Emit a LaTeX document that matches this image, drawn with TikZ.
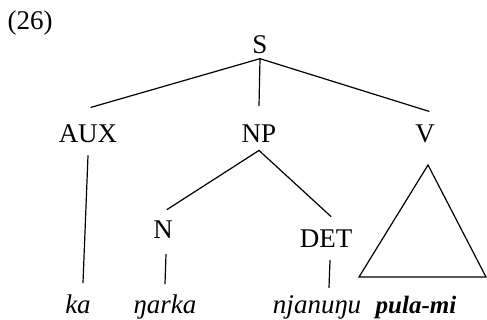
\documentclass[tikz,border=0pt]{standalone}
\usepackage{fontspec}
\setmainfont{Liberation Serif}
\begin{document}
\begin{tikzpicture}[x=1pt,y=-1pt,line width=1.2pt,cap=round,
    cat/.style={inner sep=0pt,font=\fontsize{27}{32}\selectfont},
    leaf/.style={inner sep=0pt,anchor=base,font=\fontsize{27}{32}\selectfont\itshape}]
    \useasboundingbox (0,0) rectangle (487,320);

    % example number
    \node[cat] (num) at (30,23) {(26)};

    % category labels
    \node[cat] (S) at (260,45) {S};
    \node[cat] (AUX) at (88,134) {AUX};
    \node[cat] (NP) at (259,134) {NP};
    \node[cat] (V) at (425,134) {V};
    \node[cat] (N) at (163,230) {N};
    \node[cat] (DET) at (326,239) {DET};

    % the words
    \node[leaf] (ka) at (78,313) {ka};
    \node[leaf] (ngarka) at (165,313) {ŋarka};
    \node[leaf] (njanungu) at (317,313) {njanuŋu};
    \node[leaf,font=\fontsize{25}{30}\selectfont\bfseries\itshape] (pulami) at (416,313) {pula-mi};

    % branches from S
    \draw ([yshift=-4pt]S.south) -- ([xshift=3pt,yshift=17pt]AUX.north);
    \draw ([yshift=-4pt]S.south) -- ([yshift=19pt]NP.north);
    \draw ([yshift=-4pt]S.south) -- ([xshift=4pt,yshift=13pt]V.north);

    % branches from NP
    \draw ([yshift=-7pt]NP.south) -- ([xshift=4pt,yshift=11pt]N.north);
    \draw ([yshift=-7pt]NP.south) -- ([xshift=5pt,yshift=13pt]DET.north);

    % lines down to the words
    \draw ([yshift=-12pt]AUX.south) -- ([xshift=5pt,yshift=11pt]ka.north);
    \draw ([xshift=3pt,yshift=-15pt]N.south) -- ([yshift=10pt]ngarka.north);
    \draw ([xshift=4pt,yshift=-12pt]DET.south) -- ([xshift=12pt,yshift=7pt]njanungu.north);

    % triangle under V
    \draw (359,277) -- (428,165) -- (486,277) -- cycle;
\end{tikzpicture}
\end{document}
